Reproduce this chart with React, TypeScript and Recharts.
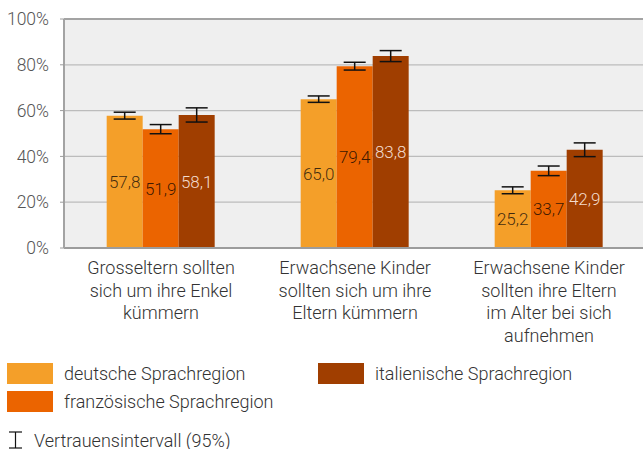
import React from "react";
import {
  BarChart,
  Bar,
  XAxis,
  YAxis,
  CartesianGrid,
  ErrorBar,
  LabelList,
  ReferenceLine,
} from "recharts";

const categories = [
  ["Grosseltern sollten", "sich um ihre Enkel", "kümmern"],
  ["Erwachsene Kinder", "sollten sich um ihre", "Eltern kümmern"],
  ["Erwachsene Kinder", "sollten ihre Eltern", "im Alter bei sich", "aufnehmen"],
];

const deutsch = [57.8, 65.0, 25.2];
const franzoesisch = [51.9, 79.4, 33.7];
const italienisch = [58.1, 83.8, 42.9];

// halbe Breite des 95%-Vertrauensintervalls
const deutschCI = [1.5, 1.4, 1.5];
const franzoesischCI = [2.0, 1.7, 2.1];
const italienischCI = [3.1, 2.4, 3.0];

const yTicks = [0, 20, 40, 60, 80, 100];

const series = [
  { key: "de", ci: "deCI", name: "deutsche Sprachregion", color: "#f49f29", label: "rgba(30,20,10,0.85)" },
  { key: "fr", ci: "frCI", name: "französische Sprachregion", color: "#eb6400", label: "rgba(40,15,0,0.9)" },
  { key: "it", ci: "itCI", name: "italienische Sprachregion", color: "#a03e00", label: "#f3dccd" },
];

const data = categories.map((lines, i) => ({
  id: String(i),
  lines,
  de: deutsch[i],
  fr: franzoesisch[i],
  it: italienisch[i],
  deCI: deutschCI[i],
  frCI: franzoesischCI[i],
  itCI: italienischCI[i],
}));

const FONT = "Roboto, 'Noto Sans', sans-serif";
const LIGHT = { fontFamily: FONT, fontWeight: 300 } as const;

const fmt = (v: number) => v.toFixed(1).replace(".", ",");

function CategoryTick({ x, y, payload }: any) {
  const row = data[Number(payload.value)];
  return (
    <text x={x} y={y} textAnchor="middle" fill="#333" fontSize={18} style={LIGHT}>
      {row.lines.map((line, i) => (
        <tspan key={i} x={x} dy={i === 0 ? 18 : 22.6}>
          {line}
        </tspan>
      ))}
    </text>
  );
}

function LegendSwatch({ color, name }: { color: string; name: string }) {
  return (
    <div style={{ display: "flex", alignItems: "center", height: 28.5 }}>
      <div style={{ width: 46, height: 21, background: color, marginRight: 11 }} />
      <span style={{ fontSize: 18, color: "#333", ...LIGHT }}>{name}</span>
    </div>
  );
}

export default function App() {
  return (
    <div style={{ position: "absolute", left: 0, top: 0, width: 643, height: 449, overflow: "hidden", background: "#fff", fontFamily: FONT }}>
      <BarChart
        width={646}
        height={352}
        data={data}
        margin={{ top: 19, right: 0, left: 0, bottom: 0 }}
        barCategoryGap="22%"
        barGap={0}
      >
        <CartesianGrid vertical={false} fill="#efefef" stroke="#bcbcbc" strokeWidth={1.2} />
        <ReferenceLine y={100} stroke="#a3a3a3" strokeWidth={2} />
        <XAxis
          dataKey="id"
          height={104}
          tick={<CategoryTick />}
          tickLine={false}
          axisLine={{ stroke: "#9c9c9c", strokeWidth: 2 }}
        />
        <YAxis
          width={64}
          domain={[0, 100]}
          ticks={yTicks}
          interval={0}
          tickFormatter={(v: number) => `${v}%`}
          tick={{ fontSize: 17.5, fill: "#555", fontWeight: 300, fontFamily: FONT }}
          tickSize={4}
          tickMargin={11}
          tickLine={{ stroke: "#9c9c9c" }}
          axisLine={{ stroke: "#a3a3a3", strokeWidth: 2 }}
        />
        {series.map((s) => (
          <Bar key={s.key} dataKey={s.key} name={s.name} fill={s.color} isAnimationActive={false}>
            <ErrorBar dataKey={s.ci} width={11} stroke="#111" strokeWidth={1.5} />
            <LabelList
              dataKey={s.key}
              position="center"
              formatter={(v: any) => fmt(Number(v))}
              fill={s.label}
              fontSize={17}
              fontWeight={300}
              fontFamily={FONT}
            />
          </Bar>
        ))}
      </BarChart>

      <div style={{ position: "absolute", left: 7, top: 359, width: 620 }}>
        <div style={{ display: "flex" }}>
          <div style={{ width: 311 }}>
            <LegendSwatch color={series[0].color} name={series[0].name} />
            <LegendSwatch color={series[1].color} name={series[1].name} />
          </div>
          <LegendSwatch color={series[2].color} name={series[2].name} />
        </div>
        <div style={{ display: "flex", alignItems: "center", marginTop: 14, height: 20 }}>
          <svg width={15} height={18} style={{ marginLeft: 1, marginRight: 11 }}>
            <line x1={1} y1={1} x2={14} y2={1} stroke="#111" strokeWidth={1.2} />
            <line x1={7.5} y1={1} x2={7.5} y2={17} stroke="#111" strokeWidth={1.2} />
            <line x1={1} y1={17} x2={14} y2={17} stroke="#111" strokeWidth={1.2} />
          </svg>
          <span style={{ fontSize: 18, color: "#333", ...LIGHT }}>Vertrauensintervall (95%)</span>
        </div>
      </div>
    </div>
  );
}
